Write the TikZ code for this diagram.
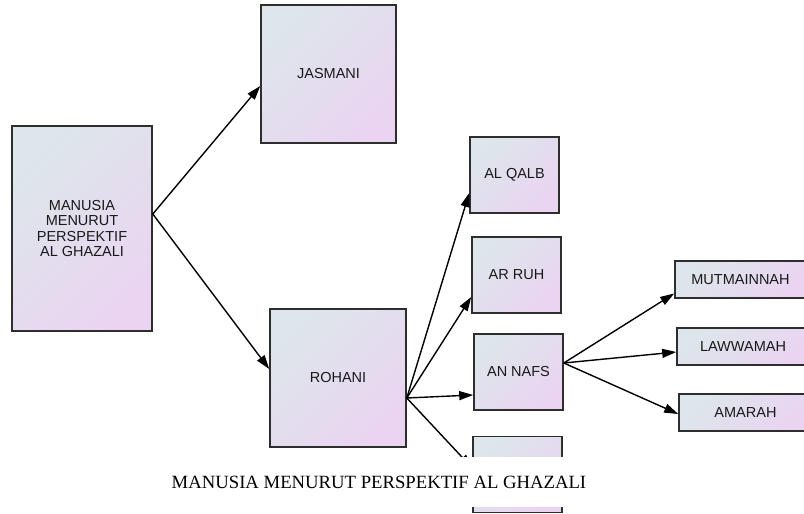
\documentclass[tikz,border=0pt]{standalone}
\usepackage{fontspec}
\setmainfont{Liberation Serif}
\setsansfont{Liberation Sans}
\usetikzlibrary{arrows.meta}

\definecolor{boxtl}{HTML}{DDE6EA}
\definecolor{boxbr}{HTML}{EAD4F2}
\definecolor{boxline}{HTML}{2E2E2E}

\begin{document}
\begin{tikzpicture}[x=1pt,y=-1pt,
  box/.style={draw=boxline,line width=1.6pt,top color=boxtl,bottom color=boxbr,shading angle=45,
    font=\sffamily\fontsize{14.5}{15.5}\selectfont,text=black!90,align=center,inner sep=0pt},
  arr/.style={line width=1.4pt,-{Triangle[length=14pt,width=9pt]}}]
  \useasboundingbox (0,0) rectangle (804,514);
  \clip (0,0) rectangle (804,514);
  % first level
  \node[box,minimum width=140pt,minimum height=205pt] (manusia) at (82,228.5) {MANUSIA\\MENURUT\\PERSPEKTIF\\AL GHAZALI};
  \node[box,minimum width=135pt,minimum height=138pt] (jasmani) at (328.5,74) {JASMANI};
  \node[box,minimum width=136pt,minimum height=138pt] (rohani) at (338,378) {ROHANI};
  % parts of rohani
  \foreach \n/\x/\y/\t in {alqalb/514.5/175/{AL QALB},arruh/516.5/275/{AR RUH},annafs/518.5/372/{AN NAFS},akal/517.5/474.5/{}}{
    \node[box,minimum width=89pt,minimum height=76pt] (\n) at (\x,\y) {\t};
  }
  % kinds of nafs
  \node[box,minimum width=131pt,minimum height=37pt] (mutmainnah) at (740.5,279.5) {MUTMAINNAH};
  \node[box,minimum width=132pt,minimum height=37pt] (lawwamah) at (743,346.5) {LAWWAMAH};
  \node[box,minimum width=133pt,minimum height=37pt] (amarah) at (745.5,412.5) {AMARAH};

  \draw[arr] ([yshift=14.5pt]manusia.east) -- ([yshift=-12pt]jasmani.west);
  \draw[arr] ([yshift=14.5pt]manusia.east) -- ([yshift=9pt]rohani.west);
  \foreach \n/\s in {alqalb/-18,arruh/-22,annafs/-23,akal/6.5}{
    \draw[arr] ([yshift=-20pt]rohani.east) -- ([yshift=\s pt]\n.west);
  }
  \foreach \n/\s in {mutmainnah/-14,lawwamah/-5.5,amarah/-1.5}{
    \draw[arr] ([yshift=9pt]annafs.east) -- ([yshift=\s pt]\n.west);
  }

  \node[fill=white,minimum width=450pt,minimum height=50pt,font=\fontsize{18.7}{20}\selectfont] (caption) at (379,482) {MANUSIA MENURUT PERSPEKTIF AL GHAZALI};
\end{tikzpicture}
\end{document}
